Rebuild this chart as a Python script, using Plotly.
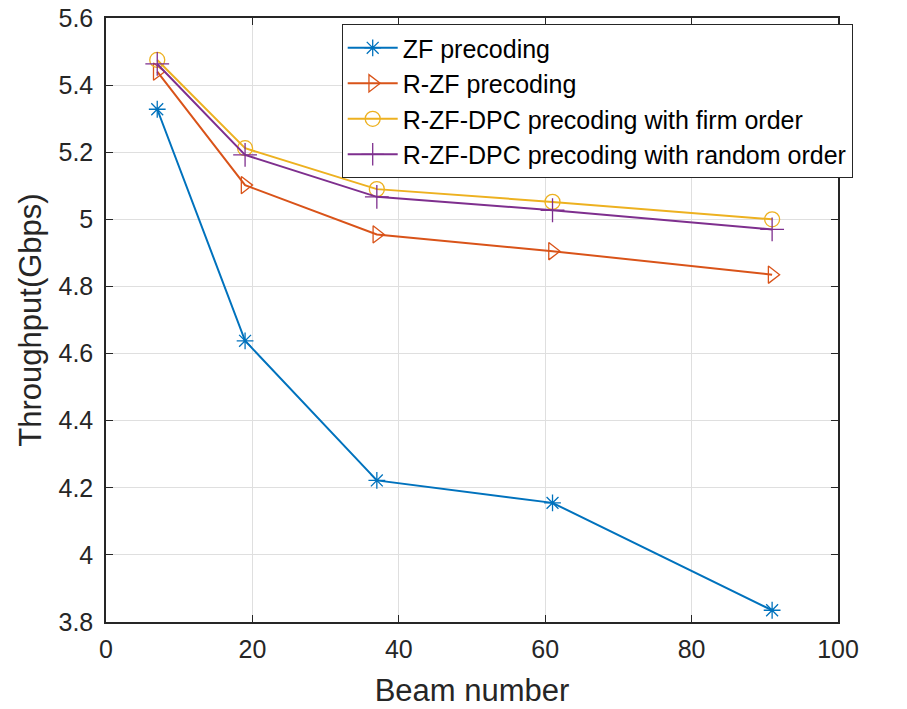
import plotly.graph_objects as go

beams = [7, 19, 37, 61, 91]
zf = [5.328, 4.638, 4.222, 4.155, 3.835]
rzf = [5.44, 5.102, 4.955, 4.905, 4.835]
firm = [5.475, 5.212, 5.09, 5.052, 5.0]
rand_order = [5.463, 5.192, 5.067, 5.027, 4.97]

names = ["ZF precoding", "R-ZF precoding",
         "R-ZF-DPC precoding with firm order",
         "R-ZF-DPC precoding with random order"]
colors = ["#0072BD", "#D95319", "#EDB120", "#7E2F8E"]
symbols = ["asterisk-open", "triangle-right-open", "circle-open", "cross-thin-open"]
sizes = [14, 15, 15, 17]
series = [zf, rzf, firm, rand_order]

fig = go.Figure()
for nm, ys, c, s, sz in zip(names, series, colors, symbols, sizes):
    fig.add_trace(go.Scatter(
        x=beams, y=ys, name=nm, mode="lines+markers",
        line=dict(color=c, width=2),
        marker=dict(symbol=s, size=sz, color=c, line=dict(color=c, width=1.3)),
    ))

font = "Liberation Sans, Arial, sans-serif"
fig.update_layout(
    width=907, height=709,
    margin=dict(l=106, r=69, t=18, b=87, autoexpand=False),
    paper_bgcolor="white", plot_bgcolor="white",
    font=dict(family=font, size=25, color="#262626"),
    showlegend=True,
    legend=dict(x=0.322, y=0.99, xanchor="left", yanchor="top",
                bgcolor="white", bordercolor="#262626", borderwidth=1,
                font=dict(size=25, color="#000000"),
                tracegroupgap=0, itemwidth=50),
)
fig.update_xaxes(
    range=[0, 100], tickvals=[0, 20, 40, 60, 80, 100],
    showgrid=True, gridcolor="#DFDFDF", gridwidth=1,
    showline=True, linecolor="#262626", linewidth=1.5, mirror="ticks",
    ticks="inside", ticklen=7, tickcolor="#262626",
    ticklabelstandoff=4, ticklabeloverflow="allow",
    zeroline=False, automargin=False,
    title=dict(text="Beam number", font=dict(size=31), standoff=18),
)
fig.update_yaxes(
    range=[3.8, 5.6], tickvals=[3.8, 4.0, 4.2, 4.4, 4.6, 4.8, 5.0, 5.2, 5.4, 5.6],
    ticktext=["3.8", "4", "4.2", "4.4", "4.6", "4.8", "5", "5.2", "5.4", "5.6"],
    showgrid=True, gridcolor="#DFDFDF", gridwidth=1,
    showline=True, linecolor="#262626", linewidth=1.5, mirror="ticks",
    ticks="inside", ticklen=7, tickcolor="#262626",
    ticklabelstandoff=6, ticklabeloverflow="allow",
    zeroline=False, automargin=False,
    title=dict(text="Throughput(Gbps)", font=dict(size=31), standoff=8),
)

fig.write_html("out.html", config={"displayModeBar": False},
               post_script="document.body.style.margin='0';")
